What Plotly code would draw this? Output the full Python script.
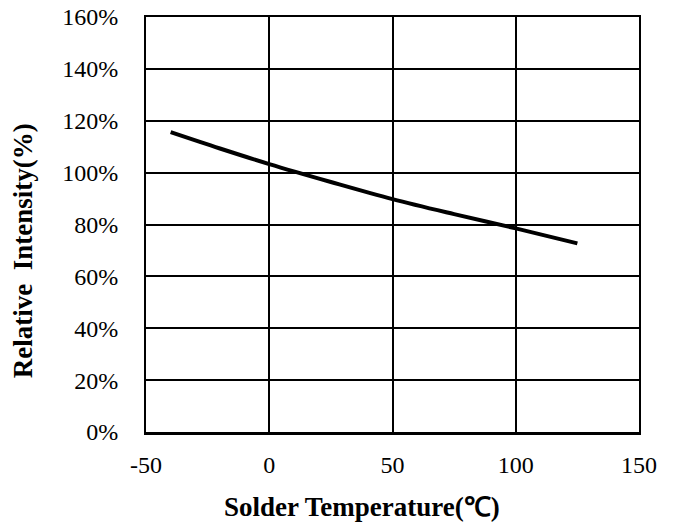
import plotly.graph_objects as go

temperature = [-40, -20, 0, 25, 50, 75, 100, 125]
relative_intensity = [115.6, 109.3, 103.3, 96.4, 89.8, 84.0, 78.5, 72.7]

x_ticks = [-50, 0, 50, 100, 150]
y_ticks = [0, 20, 40, 60, 80, 100, 120, 140, 160]
y_tick_labels = [f"{v}%" for v in y_ticks]

FONT = "Liberation Serif, Times New Roman, serif"

fig = go.Figure()
fig.add_trace(go.Scatter(
    x=temperature, y=relative_intensity, mode="lines",
    line=dict(color="black", width=4, shape="spline"),
    showlegend=False, hoverinfo="skip",
))

fig.update_layout(
    template="none",
    width=679, height=524,
    margin=dict(l=146, r=40, t=17, b=92, autoexpand=False),
    paper_bgcolor="white", plot_bgcolor="white",
    font=dict(family=FONT, size=24, color="black"),
    xaxis=dict(
        range=[-50, 150], tickvals=x_ticks, ticktext=[str(v) for v in x_ticks],
        showgrid=True, gridcolor="black", gridwidth=2,
        showline=True, linecolor="black", linewidth=2.5, mirror=True,
        ticks="inside", ticklen=4, tickwidth=2, tickcolor="black",
        ticklabelstandoff=10, zeroline=False, automargin=False,
        tickfont=dict(family=FONT, size=24),
    ),
    yaxis=dict(
        range=[0, 160], tickvals=y_ticks, ticktext=y_tick_labels,
        showgrid=True, gridcolor="black", gridwidth=2,
        showline=True, linecolor="black", linewidth=2, mirror=True,
        ticks="", ticklabelstandoff=21, zeroline=False, automargin=False,
        tickfont=dict(family=FONT, size=24),
    ),
    annotations=[
        dict(text="<b>Relative  Intensity(%)</b>", xref="paper", yref="paper",
             x=-0.249, y=0.436, xanchor="center", yanchor="middle",
             textangle=-90, showarrow=False,
             font=dict(family=FONT, size=27, color="black")),
        dict(text="<b>Solder Temperature(℃)</b>", xref="paper", yref="paper",
             x=0.4375, y=-0.18, xanchor="center", yanchor="middle",
             showarrow=False,
             font=dict(family=FONT, size=27, color="black")),
    ],
)

fig.write_html("out.html",
               config={"displayModeBar": False, "staticPlot": True},
               post_script="document.body.style.margin='0';document.body.style.overflow='hidden';")
